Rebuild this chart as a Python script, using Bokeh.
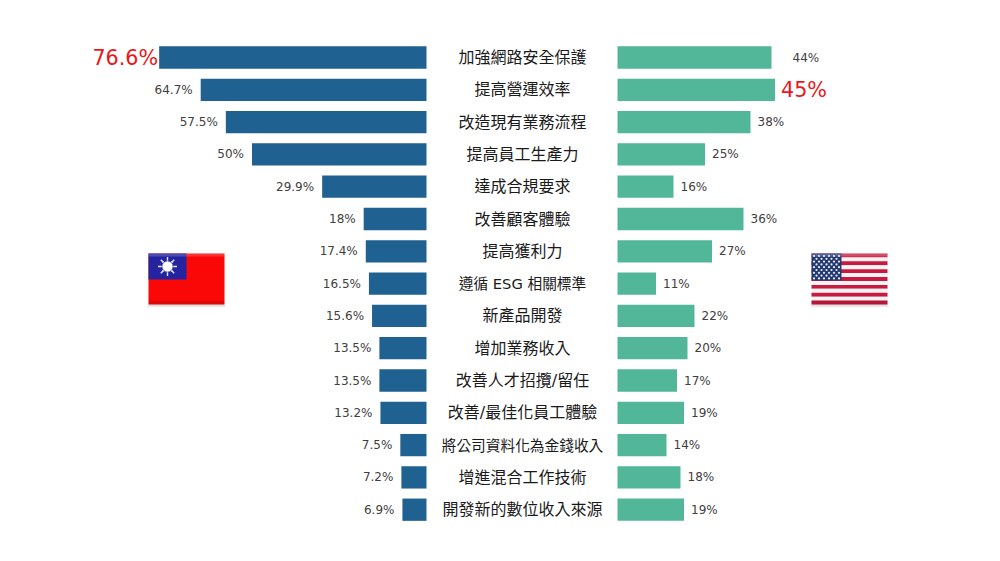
from bokeh.plotting import figure
from bokeh.models import Range1d, ColumnDataSource
from bokeh.core.properties import value
from bokeh.embed import file_html
from bokeh.resources import INLINE

categories = ["加強網路安全保護", "提高營運效率", "改造現有業務流程", "提高員工生產力", "達成合規要求",
              "改善顧客體驗", "提高獲利力", "遵循 ESG 相關標準", "新產品開發", "增加業務收入",
              "改善人才招攬/留任", "改善/最佳化員工體驗", "將公司資料化為金錢收入", "增進混合工作技術", "開發新的數位收入來源"]
taiwan = [76.6, 64.7, 57.5, 50, 29.9, 18, 17.4, 16.5, 15.6, 13.5, 13.5, 13.2, 7.5, 7.2, 6.9]
usa = [44, 45, 38, 25, 16, 36, 27, 11, 22, 20, 17, 19, 14, 18, 19]
taiwan_labels = ["76.6%", "64.7%", "57.5%", "50%", "29.9%", "18%", "17.4%", "16.5%", "15.6%", "13.5%", "13.5%", "13.2%", "7.5%", "7.2%", "6.9%"]
usa_labels = ["44%", "45%", "38%", "25%", "16%", "36%", "27%", "11%", "22%", "20%", "17%", "19%", "14%", "18%", "19%"]

W, H = 984, 545
OX, OY = 0, 0
ROW0, ROWH = 57, 32.3
ZERO_L, ZERO_R, MID = 426, 617, 522
SCALE_L, SCALE_R = 3.49, 3.5

p = figure(width=W, height=H, output_backend="svg", toolbar_location=None, min_border=0,
           x_range=Range1d(OX, OX + W), y_range=Range1d(OY + H, OY))
p.axis.visible = False
p.grid.visible = False
p.outline_line_color = None
p.background_fill_color = "white"

p.extra_x_ranges["tw"] = Range1d((OX - ZERO_L) / SCALE_L, (OX + W - ZERO_L) / SCALE_L)
p.extra_x_ranges["us"] = Range1d((OX - ZERO_R) / SCALE_R, (OX + W - ZERO_R) / SCALE_R)
p.extra_y_ranges["row"] = Range1d((OY + H - ROW0) / ROWH, (OY - ROW0) / ROWH)

rows = list(range(len(categories)))
BAR = 0.345
src = ColumnDataSource(dict(
    r=rows, t=[-v for v in taiwan], u=usa, top=[i - BAR for i in rows], bot=[i + BAR for i in rows],
    cat=categories, tl=taiwan_labels, ul=usa_labels))

p.quad(left="t", right=0, top="top", bottom="bot", source=src, x_range_name="tw", y_range_name="row",
       fill_color="#1F6190", line_color=None)
p.quad(left=0, right="u", top="top", bottom="bot", source=src, x_range_name="us", y_range_name="row",
       fill_color="#52B698", line_color=None)

CAT_FONT = value("DejaVu Sans, Noto Sans CJK TC")
for i in rows:
    p.text(x=[MID], y=[i], text=[categories[i]], y_range_name="row", text_align="center", text_baseline="middle",
           text_font=CAT_FONT, text_font_size="14.7px" if len(categories[i]) > 10 else "16px", text_color="#1a1a1a")

FONT = value("DejaVu Sans")
GREY = "#404040"
for i in rows:
    big = i == 0
    p.text(x=[-taiwan[i]], y=[i], text=[taiwan_labels[i]], x_range_name="tw", y_range_name="row",
           x_offset=-1 if big else -8, text_align="right", text_baseline="middle", text_font=FONT,
           text_font_size="20.7px" if big else "12px", text_color="#E8181C" if big else GREY)
    big = i == 1
    p.text(x=[usa[i]], y=[i], text=[usa_labels[i]], x_range_name="us", y_range_name="row",
           x_offset=6 if big else (21 if i == 0 else 7), text_align="left", text_baseline="middle", text_font=FONT,
           text_font_size="20.7px" if big else "12px", text_color="#E8181C" if big else GREY)


def shadow(x0, x1, y0, y1):
    for k, a in enumerate([0.16, 0.10, 0.05]):
        p.quad(left=x0 - k, right=x1 + k, top=y1 + k, bottom=y1 + k + 1, fill_color="#000000", fill_alpha=a, line_color=None)


# Taiwan flag
shadow(148, 224, 253, 304)
p.quad(left=148, right=224, top=253, bottom=304, fill_color="#FA0808", line_color=None)
p.quad(left=148, right=186, top=253, bottom=279, fill_color="#2424A0", line_color=None)
p.scatter(x=[167], y=[266], marker="asterisk", size=19, line_color="#E8E8F8", line_width=1.4)
p.scatter(x=[167], y=[266], marker="x", size=15, line_color="#E8E8F8", line_width=1.4)
p.scatter(x=[167], y=[266], marker="circle", size=11, fill_color="white", line_color="#2424A0", line_width=0.6)
p.quad(left=148, right=224, top=253, bottom=256, fill_color="white", fill_alpha=0.18, line_color=None)
p.quad(left=148, right=224, top=300, bottom=304, fill_color="#000000", fill_alpha=0.10, line_color=None)

# US flag
shadow(811, 887, 253, 304)
stripe = 51 / 13
for s in range(13):
    p.quad(left=811, right=887, top=253 + s * stripe, bottom=253 + (s + 1) * stripe,
           fill_color="#C8193F" if s % 2 == 0 else "#F6F2F2", line_color=None)
p.quad(left=811, right=841, top=253, bottom=280, fill_color="#22386E", line_color=None)
sx, sy = [], []
for row_i in range(9):
    n = 6 if row_i % 2 == 0 else 5
    for c in range(n):
        sx.append(813.5 + c * 5 + (0 if row_i % 2 == 0 else 2.5))
        sy.append(255.5 + row_i * 2.8)
p.scatter(x=sx, y=sy, marker="circle", size=2.2, fill_color="#E6ECF8", line_color=None)
p.quad(left=811, right=887, top=253, bottom=256, fill_color="white", fill_alpha=0.22, line_color=None)
p.quad(left=811, right=887, top=300, bottom=304, fill_color="#000000", fill_alpha=0.10, line_color=None)

open("out.html", "w").write(file_html(p, INLINE))
